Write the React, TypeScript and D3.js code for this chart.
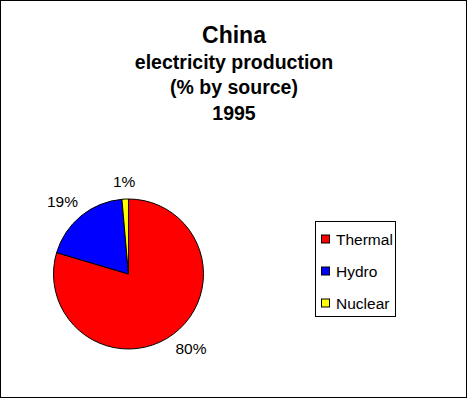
import React from "react";
import * as d3 from "d3";

const titleLines = ["China", "electricity production", "(% by source)", "1995"];
const categories = ["Thermal", "Hydro", "Nuclear"];
const values = [79.6, 19.0, 1.4];
const pctLabels = ["80%", "19%", "1%"];
const colors = ["#ff0000", "#0000ff", "#ffff00"];

const W = 468;
const H = 399;
const FONT = "'Liberation Sans', Arial, sans-serif";

export default function App() {
  const cx = 128.5;
  const cy = 274;
  const r = 75;
  const data = categories.map((c, i) => ({ name: c, value: values[i], label: pctLabels[i], color: colors[i] }));
  const pie = d3.pie<any>().sort(null).value((d: any) => d.value).startAngle(0).endAngle(2 * Math.PI);
  const arcs = pie(data);
  const arc = d3.arc<any>().innerRadius(0).outerRadius(r);

  const legendY = d3.scalePoint<string>().domain(categories).range([239.5, 303.5]);

  return (
    <svg width={W} height={H} style={{ position: "absolute", left: 0, top: 0, background: "#fff" }}>
      <rect x={0.5} y={0.5} width={W - 2} height={H - 2} fill="#fff" stroke="#000" strokeWidth={1} />
      <g fontFamily={FONT} fontWeight="bold" textAnchor="middle" fill="#000">
        <text x={234} y={43} fontSize={23}>{titleLines[0]}</text>
        {titleLines.slice(1).map((t, i) => (
          <text key={t} x={234} y={68.5 + i * 25.5} fontSize={19.5}>{t}</text>
        ))}
      </g>
      <g transform={`translate(${cx},${cy})`}>
        {arcs.map((a, i) => (
          <path key={i} d={arc(a) as string} fill={a.data.color} stroke="#000" strokeWidth={1} />
        ))}
        {arcs.map((a, i) => {
          const mid = (a.startAngle + a.endAngle) / 2;
          const s = Math.sin(mid);
          const c = -Math.cos(mid);
          const halfW = a.data.label.length * 4.8;
          const halfH = 6;
          const x = (r + 15) * s + s * halfW;
          const y = (r + 12) * c + c * halfH;
          return (
            <text key={"l" + i} x={x} y={y + 5.5} textAnchor="middle" fontFamily={FONT} fontSize={15.5} fill="#000">
              {a.data.label}
            </text>
          );
        })}
      </g>
      <rect x={315.5} y={221.5} width={80} height={95} fill="#fff" stroke="#000" strokeWidth={1} />
      {data.map((d) => (
        <g key={d.name} transform={`translate(0,${legendY(d.name)})`}>
          <rect x={321.5} y={-4.5} width={8} height={8} fill={d.color} stroke="#000" strokeWidth={1} />
          <text x={336} y={5.5} fontFamily={FONT} fontSize={15.5} fill="#000">{d.name}</text>
        </g>
      ))}
    </svg>
  );
}
